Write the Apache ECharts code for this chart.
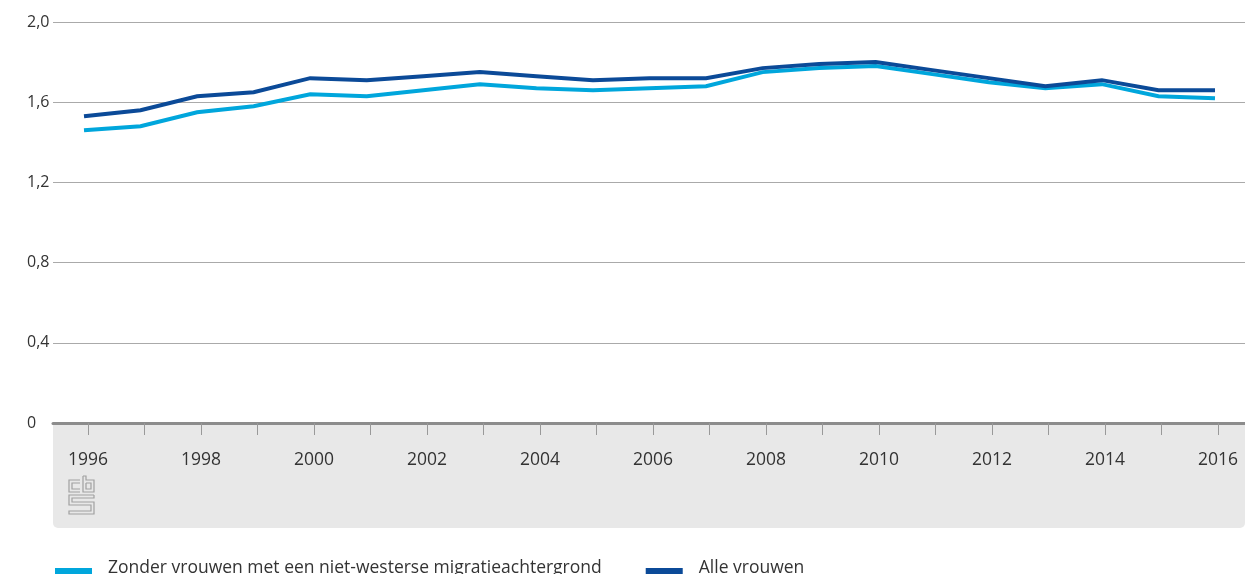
<!DOCTYPE html>
<html>
<head>
<meta charset="utf-8">
<script src="https://cdn.jsdelivr.net/npm/echarts@6/dist/echarts.min.js"></script>
<style>
  html, body { margin: 0; padding: 0; background: #fff; }
  #chart { width: 1245px; height: 574px; }
</style>
</head>
<body>
<div id="chart"></div>
<script>
// jaren
var years = ["1996", "1997", "1998", "1999", "2000", "2001", "2002", "2003", "2004", "2005", "2006",
  "2007", "2008", "2009", "2010", "2011", "2012", "2013", "2014", "2015", "2016"];
// zonder vrouwen met een niet-westerse migratieachtergrond
var zonderNietWesters = [1.46, 1.48, 1.55, 1.58, 1.64, 1.63, 1.66, 1.69, 1.67, 1.66, 1.67,
  1.68, 1.75, 1.77, 1.78, 1.74, 1.70, 1.67, 1.69, 1.63, 1.62];
// alle vrouwen
var alleVrouwen = [1.53, 1.56, 1.63, 1.65, 1.72, 1.71, 1.73, 1.75, 1.73, 1.71, 1.72,
  1.72, 1.77, 1.79, 1.80, 1.76, 1.72, 1.68, 1.71, 1.66, 1.66];
var seriesNames = ["Zonder vrouwen met een niet-westerse migratieachtergrond", "Alle vrouwen"];

var font = "'Open Sans', 'Noto Sans', sans-serif";
var chart = echarts.init(document.getElementById("chart"));

// cbs logo, lijntjes
var logoLines = [
  [[80, 480], [69, 480], [69, 492], [80, 492]],
  [[80, 483], [72, 483], [72, 489], [80, 489]],
  [[83, 476], [83, 492], [94, 492], [94, 480], [86, 480], [86, 476], [83, 476]],
  [[86, 483], [91, 483], [91, 489], [86, 489], [86, 483]],
  [[94, 495], [69, 495], [69, 505], [91, 505], [91, 511], [69, 511], [69, 514], [94, 514], [94, 502], [72, 502], [72, 498], [94, 498], [94, 495]]
];

// legend-streepje iets onder het midden (onzichtbare puntjes houden de hoogte)
var legendIcon = "path://M0,0L0.01,0L0.01,0.01Z M0,9L37,9L37,15L0,15Z M0,18L0.01,18L0.01,17.99Z";

var option = {
  animation: false,
  color: ["#00a6dc", "#0b4a98"],
  grid: [
    { left: 53, right: 0, top: 22, bottom: 151 },
    { left: 84, right: 30, top: 22, bottom: 151 },
    { left: 88, right: 27, top: 22, bottom: 151 }
  ],
  graphic: [
    {
      type: "rect",
      z: -10,
      shape: { x: 53, y: 424, width: 1192, height: 104, r: [0, 0, 5, 5] },
      style: { fill: "#e8e8e8" }
    },
    {
      type: "group",
      children: logoLines.map(function (pts) {
        return {
          type: "polyline",
          shape: { points: pts },
          style: { stroke: "#a0a0a0", lineWidth: 1.2, fill: null }
        };
      })
    }
  ],
  legend: {
    left: 50,
    top: 554,
    itemWidth: 37,
    itemHeight: 18,
    itemGap: 44,
    icon: legendIcon,
    data: seriesNames,
    textStyle: { fontFamily: font, fontSize: 17.5, color: "#333", padding: [0, 0, 0, 11] }
  },
  xAxis: [
    {
      type: "value",
      gridIndex: 0,
      min: 0,
      max: 1,
      axisLine: { show: true, onZero: false, lineStyle: { color: "#8c8c8c", width: 3 } },
      axisTick: { show: false },
      axisLabel: { show: false },
      splitLine: { show: false }
    },
    {
      type: "category",
      gridIndex: 1,
      data: years,
      boundaryGap: false,
      show: false
    },
    {
      type: "category",
      gridIndex: 2,
      data: years,
      boundaryGap: false,
      axisLine: { show: false },
      axisTick: { show: true, length: 12, interval: 0, lineStyle: { color: "#999", width: 1 } },
      axisLabel: {
        interval: 1,
        margin: 28,
        fontFamily: font,
        fontSize: 17.5,
        color: "#333"
      },
      splitLine: { show: false }
    }
  ],
  yAxis: [
    {
      type: "value",
      gridIndex: 0,
      min: 0,
      max: 2,
      interval: 0.4,
      axisLine: { show: false },
      axisTick: { show: false },
      axisLabel: {
        align: "left",
        margin: 26,
        fontFamily: font,
        fontSize: 16,
        color: "#333",
        formatter: function (v) {
          if (v === 0) return "0";
          return v.toFixed(1).replace(".", ",");
        }
      },
      splitLine: { lineStyle: { color: "#aaa", width: 1 } }
    },
    { type: "value", gridIndex: 1, min: 0, max: 2, show: false, splitLine: { show: false } },
    { type: "value", gridIndex: 2, min: 0, max: 2, show: false, splitLine: { show: false } }
  ],
  series: [
    {
      name: seriesNames[0],
      type: "line",
      xAxisIndex: 1,
      yAxisIndex: 1,
      data: zonderNietWesters,
      showSymbol: false,
      lineStyle: { width: 4, join: "miter" }
    },
    {
      name: seriesNames[1],
      type: "line",
      xAxisIndex: 1,
      yAxisIndex: 1,
      data: alleVrouwen,
      showSymbol: false,
      lineStyle: { width: 4, join: "miter" }
    }
  ]
};

chart.setOption(option);
</script>
</body>
</html>
